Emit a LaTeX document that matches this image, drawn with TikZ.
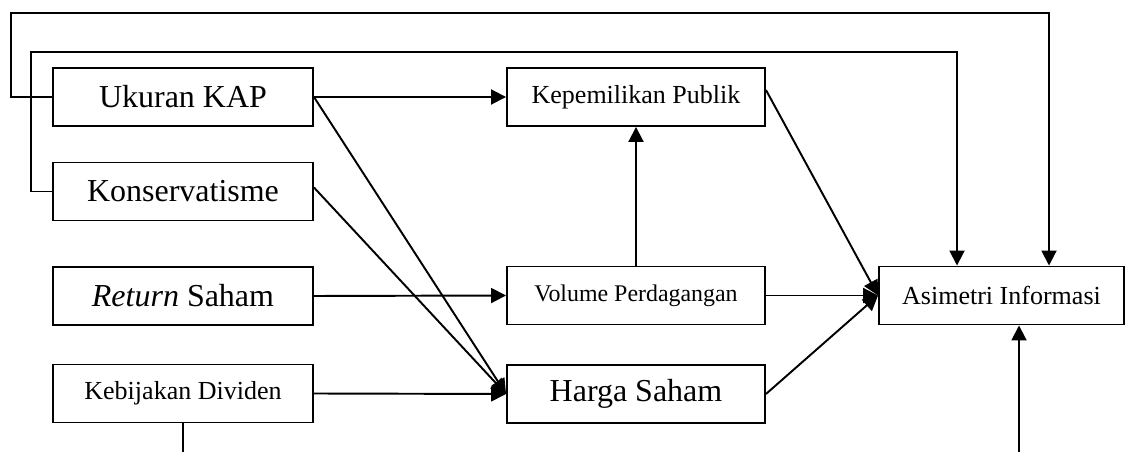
\documentclass[tikz,border=0pt]{standalone}
\usepackage{fontspec}
\setmainfont{Liberation Serif}
\usetikzlibrary{arrows.meta}

\begin{document}
\begin{tikzpicture}[
    line width=1.1pt,
    box/.style={draw, minimum width=5.2cm, minimum height=1.16cm, inner sep=0pt},
    bigtext/.style={font=\fontsize{18.2}{20}\selectfont},
    smalltext/.style={font=\fontsize{14.8}{17}\selectfont},
    tinytext/.style={font=\fontsize{13.6}{16}\selectfont},
    arr/.style={-{Triangle[length=0.3cm,width=0.3cm]}}
  ]

    % Page frame
    \useasboundingbox (0,0) rectangle (22.52,9.04);

    % Left column
    \node[box, bigtext] (ukuran) at (3.66,7.10) {Ukuran KAP};
    \node[box, bigtext] (konserv) at (3.66,5.21) {Konservatisme};
    \node[box, bigtext] (return) at (3.66,3.12) {\textit{Return} Saham};
    \node[box, smalltext] (kebijakan) at (3.66,1.17) {Kebijakan Dividen};

    % Middle column
    \node[box, smalltext, minimum width=5.16cm] (kepemilikan) at (12.72,7.10) {Kepemilikan Publik};
    \node[box, tinytext, minimum width=5.16cm] (volume) at (12.72,3.13) {Volume Perdagangan};
    \node[box, bigtext, minimum width=5.16cm] (harga) at (12.72,1.16) {Harga Saham};

    % Right column
    \node[box, smalltext, minimum width=4.9cm] (asimetri) at (20.03,3.13) {Asimetri Informasi};

    % Straight links
    \draw[arr] (ukuran.east) -- (kepemilikan.west);
    \draw[arr] (ukuran.east) -- (harga.west);
    \draw[arr] ([yshift=0.08cm]konserv.east) -- (harga.west);
    \draw[arr] (return.east) -- (volume.west);
    \draw[arr] (kebijakan.east) -- (harga.west);
    \draw[arr] (volume.north) -- (kepemilikan.south);
    \draw[arr] ([yshift=0.14cm]kepemilikan.east) -- (asimetri.west);
    \draw[arr] (volume.east) -- (asimetri.west);
    \draw[arr] (harga.east) -- (asimetri.west);

    % Loops over the top
    \coordinate (outerL) at (0.22,8.78);
    \coordinate (outerR) at (20.98,8.78);
    \coordinate (innerL) at (0.62,8.00);
    \coordinate (innerR) at (19.14,8.00);
    \draw[arr] (ukuran.west) -| (outerL) -- (outerR) -- (outerR |- asimetri.north);
    \draw[arr] (konserv.west) -| (innerL) -- (innerR) -- (innerR |- asimetri.north);

    % Lines running off the bottom
    \coordinate (kebbot) at (3.66,0);
    \coordinate (asibot) at (20.38,0);
    \draw (kebijakan.south) -- (kebbot);
    \draw[arr] (asibot) -- (asibot |- asimetri.south);
  \end{tikzpicture}
\end{document}
